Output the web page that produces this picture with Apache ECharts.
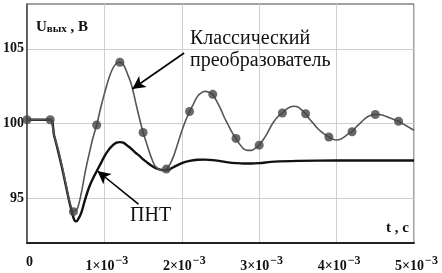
<!DOCTYPE html>
<html><head><meta charset="utf-8">
<script src="https://cdn.jsdelivr.net/npm/echarts@6/dist/echarts.min.js"></script>
<style>html,body{margin:0;padding:0;background:#fff}#c{width:442px;height:273px}</style>
</head><body><div id="c"></div>
<script>
// time in units of 1e-3 s
const classicT = [0,0.1,0.2,0.3,0.35,0.4,0.45,0.5,0.55,0.6,0.65,0.7,0.75,0.8,0.85,0.9,0.95,1.0,1.05,1.1,1.15,1.2,1.25,1.3,1.35,1.4,1.45,1.5,1.55,1.6,1.65,1.7,1.75,1.8,1.85,1.9,1.95,2.0,2.05,2.1,2.15,2.2,2.25,2.3,2.35,2.4,2.45,2.5,2.55,2.6,2.65,2.7,2.75,2.8,2.85,2.9,2.95,3.0,3.05,3.1,3.15,3.2,3.25,3.3,3.35,3.4,3.45,3.5,3.55,3.6,3.65,3.7,3.75,3.8,3.85,3.9,3.95,4.0,4.05,4.1,4.15,4.2,4.25,4.3,4.35,4.4,4.45,4.5,4.55,4.6,4.65,4.7,4.75,4.8,4.85,4.9,4.95,5.0];
const classicV = [100.25,100.25,100.25,100.25,99.2,98.3,97.2,96.0,94.8,94.1,94.3,95.3,96.7,97.9,99.0,99.9,101.0,102.0,102.9,103.6,104.0,104.1,103.9,103.3,102.6,101.5,100.4,99.4,98.6,97.8,97.2,96.95,96.85,96.95,97.3,97.9,98.7,99.5,100.2,100.8,101.3,101.8,102.05,102.15,102.1,101.95,101.5,101.0,100.4,99.9,99.4,99.0,98.6,98.3,98.2,98.2,98.35,98.55,98.9,99.3,99.8,100.2,100.5,100.7,100.95,101.1,101.15,101.1,100.9,100.65,100.3,100.0,99.7,99.45,99.25,99.1,98.95,98.9,98.95,99.1,99.3,99.45,99.75,100.0,100.25,100.45,100.55,100.6,100.6,100.55,100.45,100.35,100.25,100.15,100.0,99.85,99.7,99.55];
const markerT = [0,0.3,0.6,0.9,1.2,1.5,1.8,2.1,2.4,2.7,3.0,3.3,3.6,3.9,4.2,4.5,4.8];
const markerV = [100.25,100.25,94.1,99.9,104.1,99.4,96.95,100.8,101.95,99.0,98.55,100.7,100.65,99.1,99.45,100.6,100.15];
const pntT = [0,0.3,0.35,0.4,0.45,0.5,0.55,0.6,0.63,0.65,0.7,0.75,0.8,0.85,0.9,0.95,1.0,1.05,1.1,1.15,1.2,1.25,1.3,1.35,1.4,1.45,1.5,1.55,1.6,1.65,1.7,1.75,1.8,1.85,1.9,2.0,2.1,2.2,2.3,2.4,2.5,2.6,2.7,2.8,2.9,3.0,3.2,3.5,4.0,4.5,5.0];
const pntV = [100.25,100.25,99.2,98.2,97.1,95.9,94.7,93.7,93.45,93.5,94.0,94.9,95.7,96.3,96.8,97.3,97.8,98.2,98.5,98.7,98.75,98.7,98.5,98.3,98.05,97.85,97.6,97.4,97.2,97.05,96.95,96.88,96.88,96.95,97.1,97.35,97.5,97.57,97.58,97.55,97.48,97.4,97.35,97.32,97.32,97.35,97.45,97.5,97.52,97.52,97.52];
const yTicks = [95,100,105];
const xTicks = [0,1,2,3,4,5];
const arrow1 = [[2.03,104.72],[1.36,102.31]];
const arrow2 = [[1.44,94.61],[0.91,96.82]];

const F = '"Liberation Serif","Times New Roman",serif';
const zip = (a,b)=>a.map((t,i)=>[t,b[i]]);
const chart = echarts.init(document.getElementById('c'), null, {renderer:'canvas'});
chart.setOption({
  animation:false,
  grid:{left:25, top:4, right:28, bottom:30, show:true, borderColor:'#444', borderWidth:1},
  xAxis:{type:'value', min:0, max:5, interval:1,
    axisLine:{show:true, onZero:false, lineStyle:{color:'#222', width:2}},
    axisTick:{show:false},
    splitLine:{show:true, lineStyle:{color:'#cfcfcf', width:1}},
    axisLabel:{margin:12, padding:[0,0,0,5], fontFamily:F, fontWeight:'bold', color:'#111',
      formatter:v=> v===0 ? '{b|0}' : '{b|'+v+'×10}{s|−3}',
      rich:{b:{fontFamily:F, fontWeight:'bold', fontSize:14, color:'#111'},
            s:{fontFamily:F, fontWeight:'bold', fontSize:12, color:'#111', padding:[0,0,10,1]}}}
  },
  yAxis:{type:'value', min:92, max:108,
    axisLine:{show:true, onZero:false, lineStyle:{color:'#444', width:1.5}},
    axisTick:{show:false, customValues:yTicks},
    splitLine:{show:true, lineStyle:{color:'#cfcfcf', width:1}},
    axisLabel:{customValues:yTicks, margin:3, fontFamily:F, fontWeight:'bold', fontSize:14, color:'#111'}
  },
  series:[
    {type:'line', data:zip(classicT,classicV), showSymbol:false, smooth:0.3,
     lineStyle:{color:'#555', width:1.6}, z:3,
     markLine:{silent:true, symbol:['none','arrow'], symbolSize:[10,13], label:{show:false},
       lineStyle:{color:'#000', width:1.6, type:'solid'},
       data:[[{coord:arrow1[0]},{coord:arrow1[1]}],[{coord:arrow2[0]},{coord:arrow2[1]}]]}},
    {type:'scatter', data:zip(markerT,markerV), symbol:'circle', symbolSize:9,
     itemStyle:{color:'#444'}, z:4},
    {type:'line', data:zip(pntT,pntV), showSymbol:false, smooth:0.3,
     lineStyle:{color:'#111', width:2.4}, z:2}
  ],
  graphic:[
    {type:'text', left:36, top:20, style:{text:'{u|U}{v|вых}{u| , В}', rich:{
      u:{fontFamily:F, fontWeight:'bold', fontSize:15, fill:'#111'},
      v:{fontFamily:F, fontWeight:'bold', fontSize:11, fill:'#111', padding:[4,0,0,0]}}}},
    {type:'text', left:386, top:221, style:{text:'t , c', fontFamily:F, fontWeight:'bold', fontSize:15, fill:'#111'}},
    {type:'text', left:190, top:28, style:{text:'Классический\nпреобразователь', fontFamily:F, fontSize:20, lineHeight:22, fill:'#111'}},
    {type:'text', left:130, top:206, style:{text:'ПНТ', fontFamily:F, fontSize:20, lineHeight:20, fill:'#111'}}
  ]
});
</script></body></html>
